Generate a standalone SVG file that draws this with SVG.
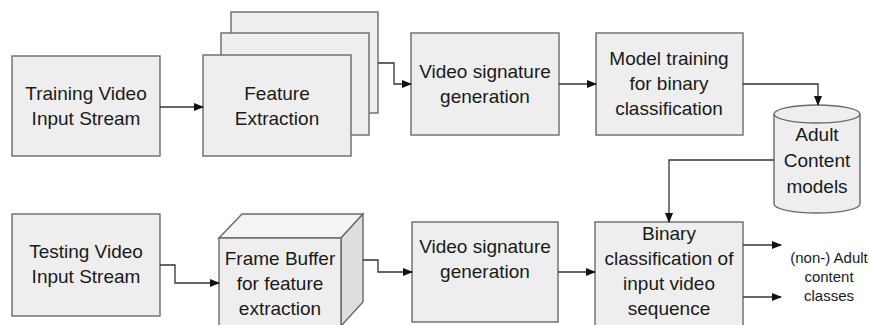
<svg xmlns="http://www.w3.org/2000/svg" width="869" height="325" viewBox="0 0 869 325">
<defs>
<style>
.box{fill:#eeeeee;stroke:#6a6a6a;stroke-width:1.4}
.t{font-family:"Liberation Sans",Arial,sans-serif;font-size:19px;fill:#1a1a1a;text-anchor:middle}
.s{font-family:"Liberation Sans",Arial,sans-serif;font-size:15px;fill:#1a1a1a;text-anchor:middle}
.c{fill:none;stroke:#333;stroke-width:1.3}
</style>
<marker id="ah" markerWidth="10" markerHeight="8" refX="9" refY="4" orient="auto" markerUnits="userSpaceOnUse">
<path d="M0,0 L10,4 L0,8 Z" fill="#111"/>
</marker>
</defs>
<rect width="869" height="325" fill="#ffffff"/>

<g id="training-input">
<rect class="box" x="12" y="56" width="148" height="100"/>
<text class="t" x="86" y="100">Training Video</text>
<text class="t" x="86" y="125">Input Stream</text>
</g>

<g id="feature-extraction">
<rect class="box" x="231" y="12" width="147" height="101"/>
<rect class="box" x="221" y="33" width="148" height="102"/>
<rect class="box" x="203" y="55" width="148" height="101"/>
<text class="t" x="277" y="100">Feature</text>
<text class="t" x="277" y="125">Extraction</text>
</g>

<g id="video-signature-1">
<rect class="box" x="411" y="33" width="148" height="102"/>
<text class="t" x="485" y="78">Video signature</text>
<text class="t" x="485" y="103">generation</text>
</g>

<g id="model-training">
<rect class="box" x="596" y="33" width="147" height="102"/>
<text class="t" x="669" y="65">Model training</text>
<text class="t" x="669" y="90">for binary</text>
<text class="t" x="669" y="115">classification</text>
</g>

<g id="adult-models">
<path class="box" d="M774,114 L774,204 A43,9 0 0 0 860,204 L860,114"/>
<ellipse class="box" cx="817" cy="114" rx="43" ry="9"/>
<text class="t" x="817" y="141">Adult</text>
<text class="t" x="817" y="167">Content</text>
<text class="t" x="817" y="193">models</text>
</g>

<g id="testing-input">
<rect class="box" x="12" y="214" width="148" height="102"/>
<text class="t" x="86" y="258">Testing Video</text>
<text class="t" x="86" y="283">Input Stream</text>
</g>

<g id="frame-buffer">
<path class="box" d="M219,238 L242,214 L363,214 L341,238 Z" style="fill:#f4f4f4"/>
<path class="box" d="M341,238 L363,214 L363,302 L341,326 Z" style="fill:#dedede"/>
<rect class="box" x="219" y="238" width="122" height="88"/>
<text class="t" x="280" y="265">Frame Buffer</text>
<text class="t" x="280" y="290">for feature</text>
<text class="t" x="280" y="315">extraction</text>
</g>

<g id="video-signature-2">
<rect class="box" x="412" y="222" width="146" height="100"/>
<text class="t" x="485" y="253">Video signature</text>
<text class="t" x="485" y="278">generation</text>
</g>

<g id="binary-classification">
<rect class="box" x="595" y="222" width="148" height="106"/>
<text class="t" x="669" y="240">Binary</text>
<text class="t" x="669" y="265">classification of</text>
<text class="t" x="669" y="290">input video</text>
<text class="t" x="669" y="315">sequence</text>
</g>

<g id="output-label">
<text class="s" x="829" y="263">(non-) Adult</text>
<text class="s" x="829" y="282">content</text>
<text class="s" x="829" y="301">classes</text>
</g>

<g id="connectors">
<path class="c" d="M160,107 L203,107" marker-end="url(#ah)"/>
<path class="c" d="M378,63 L394,63 L394,84 L411,84" marker-end="url(#ah)"/>
<path class="c" d="M559,84 L596,84" marker-end="url(#ah)"/>
<path class="c" d="M743,84 L818,84 L818,105" marker-end="url(#ah)"/>
<path class="c" d="M774,160 L669,160 L669,222" marker-end="url(#ah)"/>
<path class="c" d="M160,265 L175,265 L175,283 L219,283" marker-end="url(#ah)"/>
<path class="c" d="M363,260 L378,260 L378,272 L412,272" marker-end="url(#ah)"/>
<path class="c" d="M558,272 L595,272" marker-end="url(#ah)"/>
<path class="c" d="M743,245 L781,245" marker-end="url(#ah)"/>
<path class="c" d="M743,297 L781,297" marker-end="url(#ah)"/>
</g>
</svg>
